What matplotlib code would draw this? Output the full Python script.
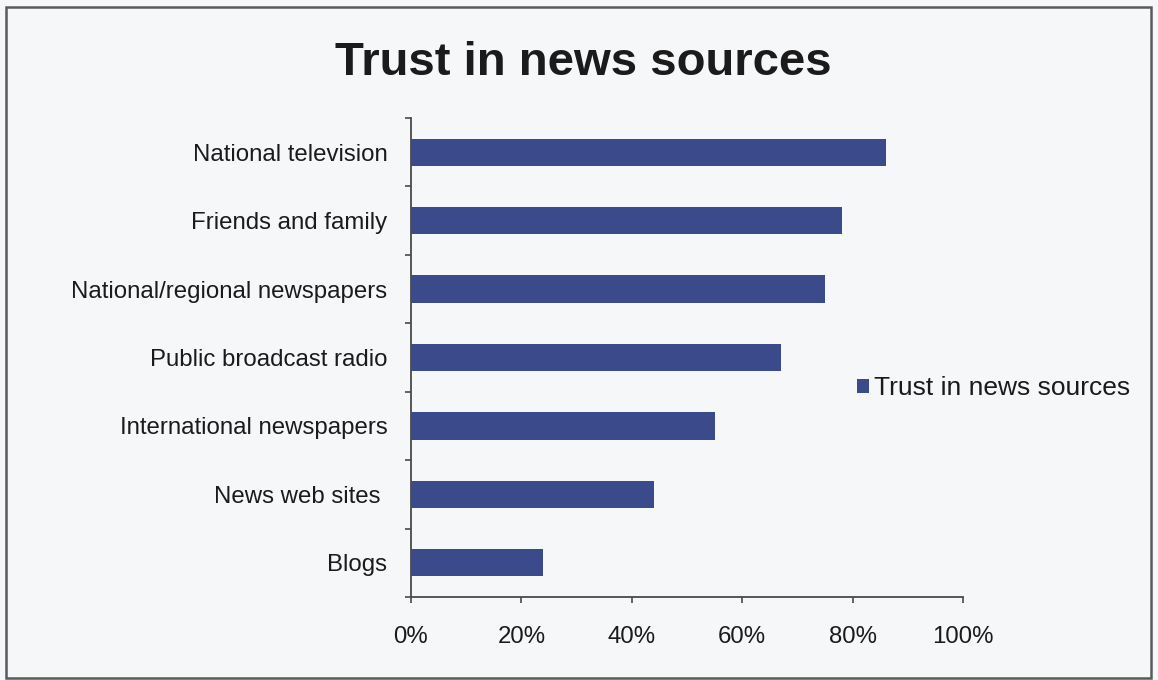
import matplotlib
matplotlib.use("Agg")
import matplotlib.pyplot as plt
from matplotlib.patches import Rectangle
from matplotlib.ticker import FixedLocator, PercentFormatter

# Survey results: share of respondents who trust each source
categories = [
    "National television",
    "Friends and family",
    "National/regional newspapers",
    "Public broadcast radio",
    "International newspapers",
    "News web sites ",
    "Blogs",
]
trust_pct = [86, 78, 75, 67, 55, 44, 24]
x_ticks = [0, 20, 40, 60, 80, 100]
series_name = "Trust in news sources"
chart_title = "Trust in news sources"

BG = "#f6f7f9"
BAR = "#3b4a8b"
INK = "#1b1b1b"
AXIS = "#4a4a4a"

plt.rcParams["font.family"] = ["Liberation Sans", "DejaVu Sans"]

fig = plt.figure(figsize=(11.58, 6.80), dpi=100, facecolor=BG)
ax = fig.add_axes([411 / 1158, 1 - 597 / 680, 552 / 1158, 479 / 680])
ax.set_facecolor(BG)

# first category on top
ypos = list(range(len(categories) - 1, -1, -1))
ax.barh(ypos, trust_pct, height=0.4, color=BAR, label=series_name, zorder=3)

ax.set_xlim(0, 100)
ax.set_ylim(-0.5, len(categories) - 0.5)

ax.xaxis.set_major_locator(FixedLocator(x_ticks))
ax.xaxis.set_major_formatter(PercentFormatter(decimals=0))
ax.tick_params(axis="x", direction="out", length=4, width=1.2, color=AXIS,
               labelsize=17.3, labelcolor=INK, pad=17)

ax.set_yticks(ypos)
ax.set_yticklabels(categories)
ax.tick_params(axis="y", which="major", length=0, labelsize=17.3,
               labelcolor=INK, pad=17)
ax.yaxis.set_minor_locator(FixedLocator([i - 0.5 for i in range(len(categories) + 1)]))
ax.tick_params(axis="y", which="minor", direction="out", length=4, width=1.2, color=AXIS)

for side in ("top", "right"):
    ax.spines[side].set_visible(False)
for side in ("left", "bottom"):
    ax.spines[side].set_color(AXIS)
    ax.spines[side].set_linewidth(1.3)

fig.text(0.504, 1 - 63 / 680, chart_title, ha="center", va="center",
         fontsize=34, fontweight="bold", color=INK)

fig.legend(loc="center left", bbox_to_anchor=(857 / 1158, 1 - 388 / 680),
           frameon=False, fontsize=19, handlelength=0.45, handleheight=0.45,
           handletextpad=0.2, borderpad=0, borderaxespad=0,
           labelcolor=INK)

# outer chart frame
fig.patches.append(Rectangle((6 / 1158, 2 / 680), 1145 / 1158, 671 / 680,
                             transform=fig.transFigure, fill=False,
                             edgecolor="#5a5a5a", linewidth=1.8))

fig.savefig("out.png", dpi=100, facecolor=BG)
